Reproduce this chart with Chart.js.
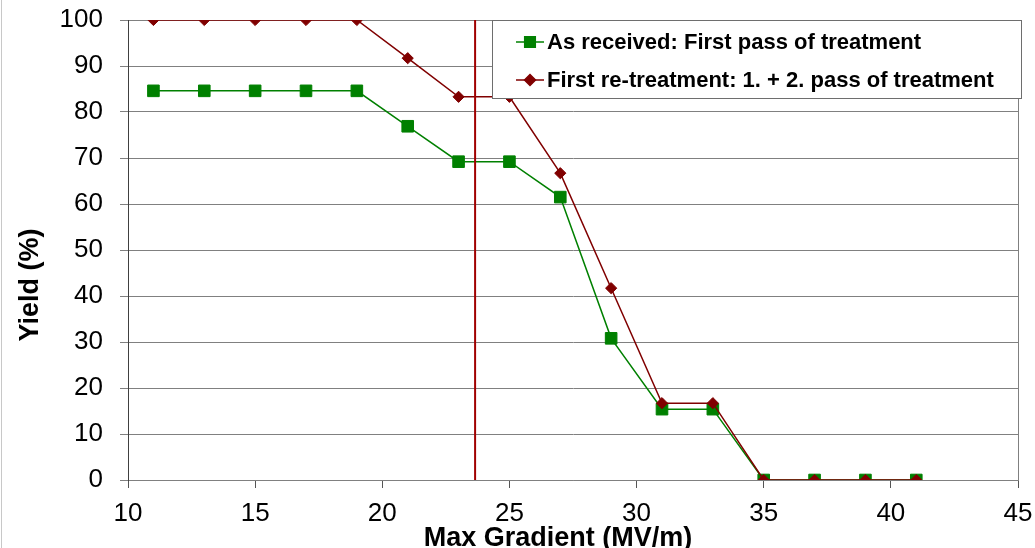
<!DOCTYPE html>
<html>
<head>
<meta charset="utf-8">
<title>Yield vs Max Gradient</title>
<script src="https://cdn.jsdelivr.net/npm/chart.js@4.4.1/dist/chart.umd.min.js"></script>
<style>
  body { margin: 0; background: #fff; }
  canvas { display: block; }
</style>
</head>
<body>
<canvas id="yieldChart" width="1035" height="548"></canvas>
<script>
// max gradient bins (MV/m)
const gradients = [11, 13, 15, 17, 19, 21, 23, 25, 27, 29, 31, 33, 35, 37, 39, 41];
// yield in %, as received (first pass)
const asReceived = [84.6, 84.6, 84.6, 84.6, 84.6, 76.9, 69.2, 69.2, 61.5, 30.8, 15.4, 15.4, 0, 0, 0, 0];
// yield in %, after first re-treatment (1. + 2. pass)
const reTreatment = [100, 100, 100, 100, 100, 91.7, 83.3, 83.3, 66.7, 41.7, 16.7, 16.7, 0, 0, 0, 0];
// vertical marker line
const cutoffGradient = 23.65;
const cutoffSpan = [0, 100];

const xTicks = [10, 15, 20, 25, 30, 35, 40, 45];
const yTicks = [0, 10, 20, 30, 40, 50, 60, 70, 80, 90, 100];
const seriesLabels = ['As received: First pass of treatment', 'First re-treatment: 1. + 2. pass of treatment'];
const axisTitles = { x: 'Max Gradient (MV/m)', y: 'Yield (%)' };

const FONT = '"Liberation Sans", Arial, sans-serif';

// legend box drawn over the plot, like the original
const boxLegend = {
    id: 'boxLegend',
    afterDraw(chart) {
        const ctx = chart.ctx;
        const bx = 492, by = 20, bw = 529, bh = 78;
        ctx.save();
        ctx.fillStyle = '#fff';
        ctx.fillRect(bx, by, bw, bh);
        ctx.strokeStyle = '#6e6e6e';
        ctx.lineWidth = 1;
        ctx.strokeRect(bx + 0.5, by + 0.5, bw, bh);
        chart.data.datasets.forEach(function(ds) {
            if (ds.legendRow === undefined) return;
            const cy = 42 + ds.legendRow * 38;
            ctx.strokeStyle = ds.borderColor;
            ctx.lineWidth = ds.borderWidth;
            ctx.beginPath();
            ctx.moveTo(516, cy);
            ctx.lineTo(544, cy);
            ctx.stroke();
            ctx.fillStyle = ds.pointBackgroundColor;
            ctx.strokeStyle = ds.pointBorderColor;
            Chart.helpers.drawPoint(ctx, {
                pointStyle: ds.pointStyle,
                radius: ds.legendRadius,
                borderWidth: 1,
                rotation: 0
            }, 530, cy);
            ctx.fillStyle = '#000';
            ctx.font = 'bold 22px ' + FONT;
            ctx.textAlign = 'left';
            ctx.textBaseline = 'middle';
            ctx.fillText(ds.label, 547, cy + 1);
        });
        ctx.restore();
    }
};

// axis titles sit a bit off-centre in the original, so place them by hand
const axisTitlesPlugin = {
    id: 'axisTitlesPlugin',
    beforeDraw(chart) {
        const ctx = chart.ctx;
        ctx.save();
        ctx.fillStyle = '#fff';
        ctx.fillRect(0, 0, chart.width, chart.height);
        ctx.strokeStyle = '#c8c8c8';
        ctx.lineWidth = 1;
        ctx.beginPath();
        ctx.moveTo(1.5, 0);
        ctx.lineTo(1.5, chart.height);
        ctx.stroke();
        ctx.restore();
    },
    afterDraw(chart) {
        const ctx = chart.ctx;
        ctx.save();
        ctx.fillStyle = '#000';
        ctx.font = 'bold 27px ' + FONT;
        ctx.textAlign = 'center';
        ctx.textBaseline = 'alphabetic';
        ctx.fillText(axisTitles.x, 558, 546);
        ctx.translate(38, 285);
        ctx.rotate(-Math.PI / 2);
        ctx.fillText(axisTitles.y, 0, 0);
        ctx.restore();
    }
};

const ctx = document.getElementById('yieldChart').getContext('2d');
const yieldChart = new Chart(ctx, {
    type: 'line',
    data: {
        datasets: [{
            label: seriesLabels[0],
            data: asReceived.map((v, i) => ({ x: gradients[i], y: v })),
            borderColor: '#008000',
            borderWidth: 1.5,
            pointStyle: 'rect',
            pointRadius: 8.2,
            pointBackgroundColor: '#008000',
            pointBorderColor: '#008000',
            pointBorderWidth: 1,
            legendRow: 0,
            legendRadius: 7.5,
            order: 3
        }, {
            label: seriesLabels[1],
            data: reTreatment.map((v, i) => ({ x: gradients[i], y: v })),
            borderColor: '#800000',
            borderWidth: 1.5,
            pointStyle: 'rectRot',
            pointRadius: 5.6,
            pointBackgroundColor: '#800000',
            pointBorderColor: '#800000',
            pointBorderWidth: 1,
            legendRow: 1,
            legendRadius: 5.5,
            order: 2
        }, {
            label: 'cutoff',
            data: cutoffSpan.map(v => ({ x: cutoffGradient, y: v })),
            borderColor: '#a00000',
            borderWidth: 2,
            pointRadius: 0,
            order: 1
        }]
    },
    options: {
        responsive: false,
        animation: false,
        layout: { padding: { top: 20, right: 17, left: 0, bottom: 0 } },
        plugins: {
            legend: { display: false },
            tooltip: { enabled: false }
        },
        scales: {
            x: {
                type: 'linear',
                min: xTicks[0],
                max: xTicks[xTicks.length - 1],
                afterBuildTicks: s => { s.ticks = xTicks.map(v => ({ value: v })); },
                afterFit: s => {
                    s.height = 68;
                    s.paddingLeft = 0;
                    s.paddingRight = 0;
                },
                grid: {
                    color: c => (c.tick && c.tick.value === xTicks[xTicks.length - 1]) ? '#808080' : 'rgba(0,0,0,0)',
                    tickColor: '#555',
                    tickLength: 8,
                    lineWidth: 1
                },
                border: { color: '#808080', width: 1 },
                ticks: {
                    color: '#000',
                    font: { family: FONT, size: 26 },
                    padding: 10,
                    maxRotation: 0
                }
            },
            y: {
                min: yTicks[0],
                max: yTicks[yTicks.length - 1],
                afterBuildTicks: s => { s.ticks = yTicks.map(v => ({ value: v })); },
                afterFit: s => {
                    s.width = 128;
                    s.paddingTop = 0;
                    s.paddingBottom = 0;
                },
                grid: {
                    color: '#808080',
                    tickColor: '#808080',
                    tickLength: 8,
                    lineWidth: 1
                },
                border: { color: '#404040', width: 1 },
                ticks: {
                    color: '#000',
                    font: { family: FONT, size: 26 },
                    padding: 17
                }
            }
        }
    },
    plugins: [axisTitlesPlugin, boxLegend]
});
</script>
</body>
</html>
